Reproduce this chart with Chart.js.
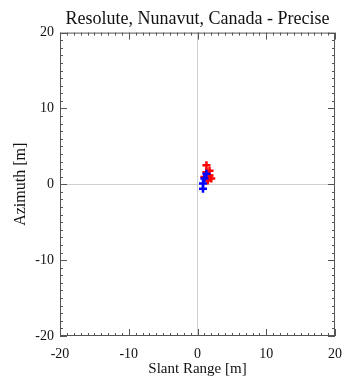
<!DOCTYPE html>
<html>
<head>
<meta charset="utf-8">
<script src="https://cdn.jsdelivr.net/npm/chart.js@4.4.1/dist/chart.umd.min.js"></script>
<style>
  html, body { margin: 0; padding: 0; background: #fff; }
  #wrap { width: 345px; height: 378px; }
</style>
</head>
<body>
<div id="wrap"><canvas id="c" width="345" height="378"></canvas></div>
<script>
// Position offsets of the two solution sets, in metres
const redSlant   = [1.3, 1.75, 1.3, 1.75, 1.0, 2.0, 1.5];
const redAzimuth = [2.5, 1.8, 1.6, 1.15, 0.95, 0.75, 0.5];
const blueSlant   = [1.3, 1.0, 0.8, 0.8];
const blueAzimuth = [1.4, 0.75, 0.1, -0.6];

const axisMin = -20, axisMax = 20;
const tickLabels = [-20, -10, 0, 10, 20];

const serif = "'Liberation Serif', 'DejaVu Serif', serif";

function pts(xs, ys) { return xs.map((x, i) => ({ x: x, y: ys[i] })); }

// Box frame with inward minor (1 m) and major (10 m) ticks on all sides
const framePlugin = {
  id: 'frame',
  afterDatasetsDraw(chart) {
    const { ctx, chartArea: a, scales } = chart;
    ctx.save();
    ctx.strokeStyle = '#555';
    ctx.lineWidth = 1;
    ctx.strokeRect(a.left + 0.5, a.top + 0.5, a.right - a.left - 1, a.bottom - a.top - 1);
    ctx.beginPath();
    for (let v = axisMin; v <= axisMax; v++) {
      const len = (v % 10 === 0) ? 7 : 3;
      const px = Math.round(scales.x.getPixelForValue(v)) + 0.5;
      ctx.moveTo(px, a.bottom); ctx.lineTo(px, a.bottom - len);
      ctx.moveTo(px, a.top); ctx.lineTo(px, a.top + len);
      const py = Math.round(scales.y.getPixelForValue(v)) + 0.5;
      ctx.moveTo(a.left, py); ctx.lineTo(a.left + len, py);
      ctx.moveTo(a.right, py); ctx.lineTo(a.right - len, py);
    }
    ctx.stroke();
    ctx.restore();
  }
};

const zeroGrid = {
  color: (c) => (c.tick && c.tick.value === 0) ? '#cfcfcf' : 'rgba(0,0,0,0)',
  lineWidth: 1,
  drawTicks: false
};

new Chart(document.getElementById('c'), {
  type: 'scatter',
  data: {
    datasets: [
      {
        label: 'blue',
        data: pts(blueSlant, blueAzimuth),
        pointStyle: 'cross',
        pointRadius: 4,
        pointBorderWidth: 2.5,
        borderColor: '#0000ff',
        backgroundColor: '#0000ff'
      },
      {
        label: 'red',
        data: pts(redSlant, redAzimuth),
        pointStyle: 'cross',
        pointRadius: 4,
        pointBorderWidth: 2.5,
        borderColor: '#ff0000',
        backgroundColor: '#ff0000'
      }
    ]
  },
  options: {
    responsive: false,
    animation: false,
    events: [],
    layout: { padding: { left: 0, right: 10, top: 0, bottom: 0 } },
    plugins: {
      legend: { display: false },
      tooltip: { enabled: false },
      title: {
        display: true,
        text: 'Resolute, Nunavut, Canada - Precise',
        fullSize: false,
        color: '#111',
        font: { family: serif, size: 18, weight: 'normal' },
        padding: { top: 8, bottom: 3 }
      }
    },
    scales: {
      x: {
        type: 'linear',
        min: axisMin, max: axisMax,
        border: { display: false },
        grid: zeroGrid,
        afterFit: (s) => { s.height = 42; s.paddingLeft = 0; s.paddingRight = 0; },
        afterBuildTicks: (s) => { s.ticks = tickLabels.map(v => ({ value: v })); },
        ticks: {
          color: '#111',
          padding: 10,
          maxRotation: 0,
          font: { family: serif, size: 14 }
        },
        title: {
          display: true,
          text: 'Slant Range [m]',
          color: '#111',
          font: { family: serif, size: 15 },
          padding: { top: 0, bottom: 0 }
        }
      },
      y: {
        type: 'linear',
        min: axisMin, max: axisMax,
        border: { display: false },
        grid: zeroGrid,
        afterFit: (s) => { s.width = 60; s.paddingTop = 0; s.paddingBottom = 0; },
        afterBuildTicks: (s) => { s.ticks = tickLabels.map(v => ({ value: v })); },
        ticks: {
          color: '#111',
          padding: 6,
          font: { family: serif, size: 14 }
        },
        title: {
          display: true,
          text: 'Azimuth [m]',
          color: '#111',
          font: { family: serif, size: 16 },
          padding: { top: 11, bottom: 0 }
        }
      }
    }
  },
  plugins: [framePlugin]
});
</script>
</body>
</html>
